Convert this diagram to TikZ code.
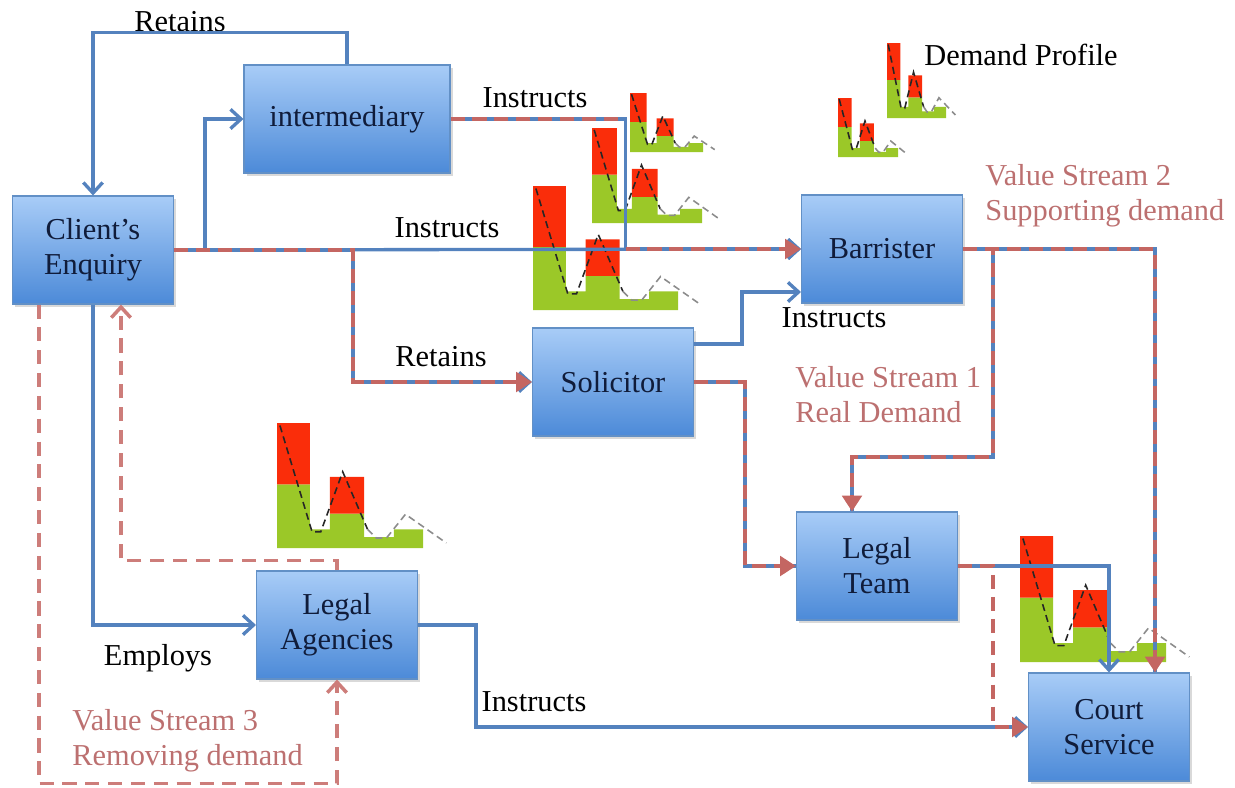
\documentclass[tikz,border=0pt]{standalone}
\usepackage{fontspec}
\setmainfont{Liberation Serif}
\usetikzlibrary{calc,arrows.meta,shadows}

\definecolor{flowblue}{RGB}{84,130,190}
\definecolor{streamred}{RGB}{196,102,98}
\definecolor{vstext}{RGB}{188,112,112}
\definecolor{boxtop}{RGB}{168,204,247}
\definecolor{boxbot}{RGB}{76,138,216}
\definecolor{boxline}{RGB}{98,144,198}
\definecolor{boxtext}{RGB}{16,28,58}
\definecolor{chartgreen}{RGB}{155,200,40}
\definecolor{chartred}{RGB}{250,45,10}

\newcommand{\demandprofile}[4]{%
    \begin{scope}[shift={(#1,#2)}, xscale=#3, yscale=-#4]
        \fill[chartgreen] (0,0) -- (0,.51) -- (.226,.51) -- (.226,.15) -- (.363,.15) -- (.363,.275)
            -- (.597,.275) -- (.597,.087) -- (.8,.087) -- (.8,.15) -- (1,.15) -- (1,0) -- cycle;
        \fill[chartred] (0,.51) rectangle (.226,1) (.363,.275) rectangle (.597,.57);
        \draw[black!85, line width=.9pt, dash pattern=on 4pt off 2.5pt]
            (.02,.98) -- (.24,.13) -- (.3,.13) -- (.45,.61) -- (.62,.15);
        \draw[black!45, line width=.9pt, dash pattern=on 4pt off 2.5pt]
            (.62,.15) -- (.68,.08) -- (.75,.08) -- (.88,.27) -- (1.16,.04);
    \end{scope}}

\begin{document}
\begin{tikzpicture}[x=0.02cm, y=-0.02cm,
    every node/.style={font=\fontsize{17.3}{20}\selectfont},
    party/.style={draw=boxline, line width=.6pt, top color=boxtop, bottom color=boxbot,
        text=boxtext, align=center, inner sep=0pt, minimum width=3.22cm, minimum height=2.16cm,
        drop shadow={shadow xshift=1.5pt, shadow yshift=-1.5pt, opacity=.3}},
    lbl/.style={inner sep=0pt},
    vslbl/.style={inner sep=0pt, text=vstext, align=left, anchor=west},
    flow/.style={flowblue, line width=1.9pt, -{Straight Barb[length=6pt,width=11pt]}},
    stream/.style={streamred, line width=2.3pt, dash pattern=on 8pt off 4.5pt,
        -{Triangle[length=9pt,width=11pt]}},
    remove/.style={streamred!85, line width=2pt, dash pattern=on 8pt off 5pt,
        -{Straight Barb[length=6pt,width=11pt]}}]
    \useasboundingbox (0,0) rectangle (1235,788);

    \demandprofile{533}{310}{145}{124}
    \demandprofile{592}{223}{110}{95}
    \demandprofile{630}{152}{73}{59}
    \demandprofile{838}{157}{60}{59}
    \demandprofile{887}{118}{59}{75}
    \demandprofile{277}{548}{146}{125}
    \demandprofile{1020}{662}{146}{126}

    \node[party] (cli) at (93,250) {Client’s\\Enquiry};
    \node[party, minimum width=4.12cm] (inter) at (347,119) {intermediary};
    \node[party] (bar) at (882,249) {Barrister};
    \node[party] (sol) at (613,382) {Solicitor};
    \node[party] (team) at (877,566) {Legal\\Team};
    \node[party] (agency) at (337,625) {Legal\\Agencies};
    \node[party] (court) at (1109,727) {Court\\Service};

    \node[lbl] (retA) at (180,22) {Retains};
    \node[lbl] (insA) at (535,98) {Instructs};
    \node[lbl] (demand) at (1021,55) {Demand Profile};
    \node[lbl] (insB) at (447,228) {Instructs};
    \node[lbl] (insC) at (834,318) {Instructs};
    \node[lbl] (retB) at (441,357) {Retains};
    \node[lbl] (employs) at (158,658) {Employs};
    \node[lbl] (insD) at (534,702) {Instructs};
    \node[vslbl] (vs2) at (985,196) {Value Stream 2\\Supporting demand};
    \node[vslbl] (vs1) at (795,395) {Value Stream 1\\Real Demand};
    \node[vslbl] (vs3) at (72,741) {Value Stream 3\\Removing demand};

    \draw[flow] (inter.north) -- ++(0,-32) -| (cli.north);
    \draw[flow] (cli.east) -- ++(31,0) |- (inter.west);
    \draw[flow] (cli.east) -- (bar.west);
    \draw[flow] (cli.east) -- ++(179,0) |- (sol.west);
    \draw[flow] (inter.east) -- ++(175,0) coordinate (jA) |- (bar.west);
    \draw[flow] ($(sol.east)+(0,-38)$) -- ++(48,0) |- ($(bar.west)+(0,43)$);
    \draw[flow, -] (sol.east) -- ++(51,0) |- (team.west);
    \draw[flow, -] (bar.east) -| ($(court.north)+(46,0)$);
    \draw[flow, -] (bar.east) -- ++(30,0) -- ++(0,208) -| ($(team.north)+(-25,0)$);
    \draw[flow] (team.east) -| (court.north);
    \draw[flow] (agency.east) -- ++(58,0) |- (court.west);
    \draw[flow] (cli.south) |- (agency.west);

    \draw[stream] (cli.east) -- ++(179,0) |- (sol.west);
    \draw[stream, -] (inter.east) -- (jA);
    \draw[stream] (jA |- bar.west) -- (bar.west);
    \draw[stream] (sol.east) -- ++(51,0) |- (team.west);
    \draw[stream] (bar.east) -| ($(court.north)+(46,0)$);
    \draw[stream] (bar.east) -- ++(30,0) -- ++(0,208) -| ($(team.north)+(-25,0)$);
    \draw[stream] (team.east) -- ++(35,0) |- (court.west);
    \draw[remove] (agency.north) -- ++(0,-10) -| ($(cli.south)+(28,0)$);
    \draw[remove] ($(cli.south)+(-54,0)$) -- ++(0,479) -| (agency.south);
\end{tikzpicture}
\end{document}
